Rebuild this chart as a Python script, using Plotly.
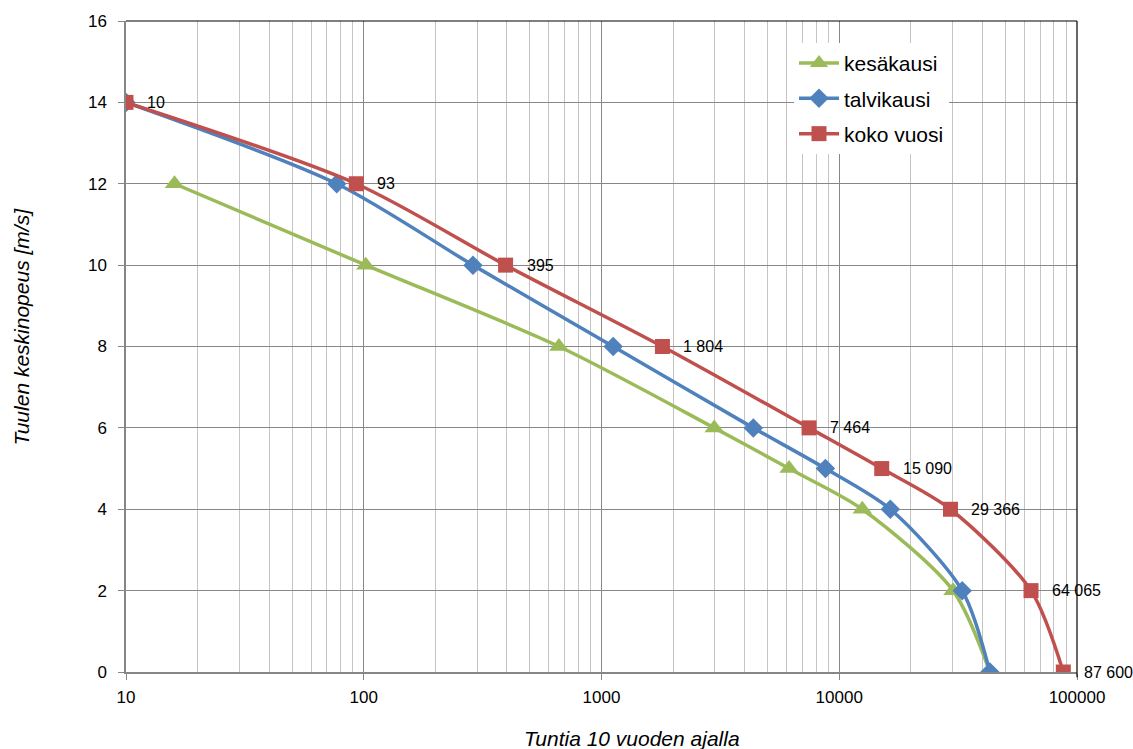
import math
import plotly.graph_objects as go

# Wind speed classes [m/s]
speed_all = [14, 12, 10, 8, 6, 5, 4, 2, 0]
speed_summer = [12, 10, 8, 6, 5, 4, 2, 0]

# Cumulative hours over 10 years at or above each wind speed
hours_summer = [16, 102, 662, 2980, 6150, 12500, 30100, 43000]
hours_winter = [10, 77, 288, 1120, 4350, 8750, 16400, 32900, 43000]
hours_year = [10, 93, 395, 1804, 7464, 15090, 29366, 64065, 87600]

year_labels = ["10", "93", "395", "1 804", "7 464", "15 090", "29 366", "64 065", "87 600"]

GREEN = "#9BBB59"
BLUE = "#4F81BD"
RED = "#C0504D"
FONT = "Liberation Sans, Arial, sans-serif"

fig = go.Figure()

fig.add_trace(go.Scatter(
    x=hours_summer, y=speed_summer, name="kesäkausi", legendgroup="a",
    mode="lines+markers", line=dict(color=GREEN, width=3.5, shape="spline", smoothing=0.8),
    marker=dict(symbol="triangle-up", size=17, color=GREEN),
))
fig.add_trace(go.Scatter(
    x=hours_winter, y=speed_all, name="talvikausi", legendgroup="b",
    mode="lines+markers", line=dict(color=BLUE, width=3.5, shape="spline", smoothing=0.8),
    marker=dict(symbol="diamond", size=15, color=BLUE),
))
fig.add_trace(go.Scatter(
    x=hours_year, y=speed_all, name="koko vuosi", legendgroup="c",
    mode="lines+markers", line=dict(color=RED, width=3.5, shape="spline", smoothing=0.8),
    marker=dict(symbol="square", size=15, color=RED),
))

# Value labels beside the whole-year markers (annotation x is log10 on a log axis)
for h, s, lab in zip(hours_year, speed_all, year_labels):
    fig.add_annotation(x=math.log10(h), y=s, xref="x", yref="y", text=lab, showarrow=False,
                       xanchor="left", yanchor="middle", xshift=19,
                       font=dict(family=FONT, size=16, color="#000000"))

# Axis titles
fig.add_annotation(xref="paper", yref="paper", x=(632 - 126) / 951, y=(672 - 739) / 654,
                   text="<i>Tuntia 10 vuoden ajalla</i>", showarrow=False,
                   xanchor="center", yanchor="middle",
                   font=dict(family=FONT, size=21, color="#000000"))
fig.add_annotation(xref="paper", yref="paper", x=(22 - 126) / 951, y=(672 - 325) / 654,
                   text="<i>Tuulen keskinopeus [m/s]</i>", textangle=-90, showarrow=False,
                   xanchor="center", yanchor="middle",
                   font=dict(family=FONT, size=21, color="#000000"))

minor_vals = [m * 10 ** e for e in range(1, 5) for m in range(2, 10)]

fig.update_xaxes(
    type="log", range=[1, 5],
    tickvals=[10, 100, 1000, 10000, 100000],
    ticktext=["10", "100", "1000", "10000", "100000"],
    ticks="outside", ticklen=6, tickcolor="#868686",
    showline=True, linecolor="#868686", linewidth=1.5,
    showgrid=True, gridcolor="#878787", gridwidth=1,
    minor=dict(tickvals=minor_vals, showgrid=True, gridcolor="#C4C4C4", gridwidth=1, ticks=""),
    tickfont=dict(family=FONT, size=17, color="#000000"),
    ticklabelstandoff=3,
    zeroline=False,
)
fig.update_yaxes(
    range=[0, 16], dtick=2,
    ticks="outside", ticklen=6, tickcolor="#868686",
    showline=True, linecolor="#868686", linewidth=1.5,
    showgrid=True, gridcolor="#878787", gridwidth=1,
    tickfont=dict(family=FONT, size=17, color="#000000"),
    ticklabelstandoff=8,
    zeroline=False,
)

# Plot-area border on the top and right
fig.add_shape(type="line", xref="paper", yref="paper", x0=0, x1=1, y0=1, y1=1,
              line=dict(color="#000000", width=1.2))
fig.add_shape(type="line", xref="paper", yref="paper", x0=1, x1=1, y0=-0.008, y1=1,
              line=dict(color="#000000", width=1.2))

fig.update_layout(
    width=1133, height=749,
    margin=dict(l=126, r=56, t=18, b=77),
    paper_bgcolor="#FFFFFF", plot_bgcolor="#FFFFFF",
    font=dict(family=FONT, color="#000000"),
    legend=dict(
        x=(794 - 126) / 951, y=(672 - 40) / 654, xanchor="left", yanchor="top",
        bgcolor="#FFFFFF", borderwidth=0,
        traceorder="grouped", tracegroupgap=5,
        font=dict(family=FONT, size=21, color="#000000"),
        itemwidth=40,
    ),
    showlegend=True,
)

fig.write_html("out.html")
